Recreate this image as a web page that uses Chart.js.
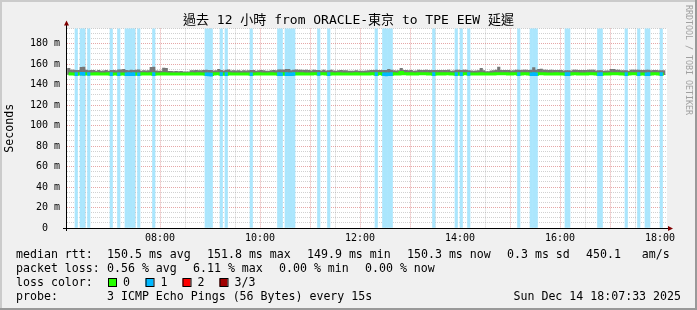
<!DOCTYPE html>
<html><head><meta charset="utf-8">
<script src="https://cdn.jsdelivr.net/npm/chart.js@4/dist/chart.umd.min.js"></script>
<style>html,body{margin:0;padding:0;background:#f0f0f0}canvas{display:block}</style>
</head><body>
<canvas id="c" width="697" height="310"></canvas>
<script>
// ---------- data ----------
const titleText = '過去 12 小時 from ORACLE-東京 to TPE EEW 延遲';
const yAxisTitle = 'Seconds';
const firstSampleHour = 6.15;   // 06:09
const sampleStepHours = 0.05;   // 3-minute consolidated samples
const timeMin = 6.14, timeMax = 18.14;
const yMax = 195;
const xTickHours = [6.5,7,7.5,8,8.5,9,9.5,10,10.5,11,11.5,12,12.5,13,13.5,14,14.5,15,15.5,16,16.5,17,17.5,18];
const yTickValues = [0,5,10,15,20,25,30,35,40,45,50,55,60,65,70,75,80,85,90,95,100,105,110,115,120,125,130,135,140,145,150,155,160,165,170,175,180,185,190,195];

const medianRtt = [
150.6,150.5,150.4,150.3,150.5,150.7,150.6,150.5,150.4,150.5,150.5,150.6,150.5,150.4,150.5,150.5,150.6,150.3,150.4,150.5,
150.2,150.4,150.5,150.2,150.3,150.2,150.3,150.5,150.2,150.5,150.6,150.5,150.5,150.6,150.3,150.5,150.4,150.5,150.6,150.5,
150.5,150.4,150.5,150.5,150.4,150.5,150.5,150.4,150.5,150.6,150.5,150.5,150.6,150.5,150.5,150.2,150.1,149.9,150.5,150.6,
150.7,150.3,150.5,150.3,150.6,150.5,150.5,150.4,150.5,150.5,150.4,150.5,150.5,150.2,150.5,150.5,150.6,150.5,150.5,150.4,
150.5,150.6,150.5,150.5,150.3,150.2,150.6,150.3,150.2,150.2,150.4,150.6,150.5,150.6,150.5,150.5,150.5,150.4,150.6,150.7,
150.4,150.6,150.6,150.5,150.3,150.6,150.5,150.5,150.6,150.5,150.5,150.4,150.5,150.5,150.5,150.6,150.5,150.5,150.4,150.5,
150.5,150.6,150.7,150.3,150.6,150.7,150.2,150.1,150.2,150.3,150.6,150.5,150.5,151.8,150.6,150.6,150.5,150.6,150.5,150.5,
150.7,150.6,150.6,150.6,150.5,150.5,150.3,150.6,150.5,150.6,150.5,150.6,150.6,150.5,150.5,150.3,150.6,150.3,150.6,150.6,
150.4,150.5,150.5,150.5,150.5,150.6,150.5,150.5,150.5,150.5,150.5,150.6,150.8,150.6,150.6,150.6,150.5,150.5,150.6,150.6,
150.3,150.5,150.6,150.6,150.5,150.2,150.3,150.2,150.6,150.6,150.6,150.5,150.5,150.5,150.5,150.6,150.5,150.5,150.5,150.3,
150.3,150.5,150.6,150.6,150.5,150.5,150.5,150.5,150.6,150.6,150.6,150.5,150.2,150.3,150.5,150.5,150.5,150.6,150.6,150.6,
150.6,150.5,150.5,150.3,150.5,150.6,150.6,150.6,150.3,150.5,150.5,150.2,150.3,150.5,150.6,150.6,150.5,150.3,150.3,null];

const smokeMin = [
150.1,150.0,149.9,149.8,150.0,150.2,150.1,150.0,149.9,150.0,150.1,150.1,150.0,149.9,150.1,150.0,150.1,149.7,149.9,150.0,
149.7,149.9,150.0,149.6,149.8,149.7,149.8,150.0,149.7,150.1,150.2,150.1,150.0,150.1,149.8,150.1,150.0,150.1,150.2,150.1,
150.1,150.0,150.1,150.1,150.0,150.1,150.1,150.0,150.1,150.2,150.1,150.1,150.2,150.1,150.1,149.7,149.6,149.5,150.1,150.2,
150.2,149.8,150.1,149.8,150.1,150.1,150.1,150.0,150.1,150.1,150.0,150.1,150.1,149.7,150.1,150.1,150.2,150.1,150.1,150.0,
150.1,150.2,150.1,150.1,149.8,149.7,150.2,149.8,149.7,149.7,150.0,150.2,150.1,150.2,150.1,150.1,150.1,150.0,150.2,150.2,
149.9,150.2,150.2,150.1,149.8,150.2,150.1,150.1,150.2,150.1,150.1,150.0,150.1,150.1,150.1,150.2,150.1,150.1,150.0,150.1,
150.1,150.2,150.2,149.8,150.1,150.2,149.7,149.6,149.7,149.8,150.2,150.1,150.1,150.9,150.2,150.2,150.1,150.2,150.1,150.1,
150.2,150.2,150.2,150.2,150.1,150.1,149.8,150.2,150.1,150.2,150.1,150.2,150.2,150.1,150.1,149.8,150.2,149.8,150.2,150.2,
149.9,150.1,150.1,150.1,150.1,150.2,150.1,150.1,150.1,150.1,150.1,150.2,150.3,150.2,150.2,150.2,150.1,150.1,150.2,150.2,
149.8,150.1,150.2,150.2,150.1,149.7,149.8,149.7,150.2,150.2,150.2,150.1,150.1,150.1,150.1,150.2,150.1,150.1,150.1,149.8,
149.8,150.1,150.2,150.2,150.1,150.1,150.1,150.1,150.2,150.2,150.2,150.1,149.7,149.8,150.1,150.1,150.1,150.2,150.2,150.2,
150.2,150.1,150.1,149.8,150.1,150.2,150.2,150.2,149.8,150.1,150.1,149.7,149.8,150.1,150.2,150.2,150.1,149.8,149.8,null];

const smokeMax = [
156.0,154.3,154.3,154.0,154.0,157.0,157.3,154.3,153.8,154.1,154.1,153.4,154.0,153.4,153.6,154.0,153.4,154.0,154.0,153.8,
154.5,154.5,155.0,154.1,153.8,154.3,154.0,154.3,154.5,153.4,153.8,153.6,153.8,157.0,157.2,153.6,153.4,153.4,156.3,156.0,
153.0,153.0,152.9,153.0,152.9,153.0,152.6,152.6,152.6,153.8,153.8,154.0,153.8,153.8,154.0,154.3,154.1,154.0,153.6,153.8,
155.0,154.1,153.6,154.3,154.5,153.6,153.8,153.6,153.8,153.4,153.8,153.6,153.8,154.1,154.1,153.4,153.8,154.0,153.8,153.4,
153.4,153.8,154.0,153.8,154.5,154.5,154.3,155.0,155.0,153.8,154.3,154.5,154.3,154.3,154.1,154.3,154.1,153.6,154.3,154.0,
154.0,153.6,154.3,153.6,153.8,154.3,153.6,153.4,153.8,154.0,153.8,153.8,153.4,153.4,153.4,153.8,153.4,153.4,153.4,153.6,
153.8,154.1,154.0,154.3,154.0,154.1,154.0,154.0,155.0,154.3,153.8,153.6,153.8,156.0,154.1,154.1,153.8,154.1,153.4,153.6,
154.3,154.0,154.0,154.3,154.1,154.1,154.1,154.0,154.1,154.1,154.0,154.1,154.3,153.4,153.6,154.3,154.3,154.1,154.3,154.3,
153.8,153.6,153.4,153.6,153.8,156.0,153.8,152.7,152.7,153.6,153.8,154.3,157.3,154.1,154.1,154.1,154.1,153.6,153.8,154.3,
154.3,154.1,154.3,154.3,154.1,154.3,156.7,154.3,155.0,155.3,154.3,154.3,154.1,154.3,154.1,154.1,154.1,154.1,153.6,153.8,
153.8,153.6,154.3,154.3,154.1,154.1,154.1,154.1,154.3,154.3,154.3,153.6,153.8,153.8,153.4,153.6,153.6,155.0,155.0,154.3,
154.3,153.8,153.8,153.8,153.4,154.3,154.3,154.3,154.3,154.1,154.1,154.3,154.3,153.8,154.1,154.1,153.8,153.8,153.8,null];

// samples in which 1 of 3 pings was lost
const lossSamples = [3,5,6,8,17,20,23,24,25,26,28,34,55,56,57,61,63,73,84,85,87,88,89,90,100,104,123,126,127,128,129,146,155,157,160,180,185,186,187,199,200,212,213,223,228,231,232,237];

const legendRows = [
  [['median rtt:',16],['150.5 ms avg',107],['151.8 ms max',207],['149.9 ms min',307],['150.3 ms now',407],['0.3 ms sd',507],['450.1   am/s',586]],
  [['packet loss:',16],['0.56 % avg',107],['6.11 % max',193],['0.00 % min',279],['0.00 % now',365]],
  [['loss color:',16]],
  [['probe:',16],['3 ICMP Echo Pings (56 Bytes) every 15s',107]]
];
const lossLegend = [['0','#26ff00'],['1','#00b8ff'],['2','#ff0000'],['3/3','#a00000']];
const stampText = 'Sun Dec 14 18:07:33 2025';
const vendorText = 'RRDTOOL / TOBI OETIKER';

// ---------- build tables ----------
const sampleTimes = medianRtt.map((_, i) => firstSampleHour + sampleStepHours * (i + 0.5));
const lossSet = new Set(lossSamples);
const lossBarData = sampleTimes.map((t, i) => ({x: t, y: lossSet.has(i) ? yMax : null}));
const smokeData = sampleTimes.map((t, i) => ({x: t, y: smokeMax[i] == null ? null : [smokeMin[i], smokeMax[i]]}));
const medianData = sampleTimes.map((t, i) => ({x: t, y: medianRtt[i]}));
const LINE_HALF = 1.45;
const lossMedianData = sampleTimes.map((t, i) => ({x: t, y: (lossSet.has(i) && medianRtt[i] != null) ? [medianRtt[i] - LINE_HALF, medianRtt[i] + LINE_HALF] : null}));

const MONO = "'DejaVu Sans Mono','Noto Sans CJK TC',monospace";
Chart.defaults.font.family = MONO;
const MAJOR = 'rgba(200,60,60,0.45)';
const MINOR = 'rgba(140,140,140,0.4)';

const frame = {
  id: 'frame',
  beforeDraw(chart) {
    const c = chart.ctx, a = chart.chartArea, W = chart.width, H = chart.height;
    c.save();
    c.fillStyle = '#f0f0f0'; c.fillRect(0, 0, W, H);
    c.fillStyle = '#cbcbcb'; c.fillRect(0, 0, W, 2); c.fillRect(0, 0, 2, H);
    c.fillStyle = '#999999'; c.fillRect(0, H - 2, W, 2); c.fillRect(W - 2, 0, 2, H);
    c.fillStyle = '#ffffff'; c.fillRect(a.left, a.top, a.right - a.left, a.bottom - a.top);
    c.restore();
  },
  afterDraw(chart) {
    const c = chart.ctx, a = chart.chartArea;
    c.save();
    // title
    c.font = '13px ' + MONO; c.fillStyle = '#000'; c.textBaseline = 'middle'; c.textAlign = 'center';
    c.fillText(titleText, 348.5, 21);
    // axes
    c.strokeStyle = '#000'; c.lineWidth = 1;
    c.beginPath();
    c.moveTo(a.left - 0.5, a.top - 4); c.lineTo(a.left - 0.5, a.bottom + 3);
    c.moveTo(a.left - 4, a.bottom + 0.5); c.lineTo(a.right + 2, a.bottom + 0.5);
    c.stroke();
    c.fillStyle = '#800000';
    c.beginPath(); c.moveTo(a.left - 3, a.top - 3); c.lineTo(a.left + 2, a.top - 3); c.lineTo(a.left - 0.5, a.top - 8); c.closePath(); c.fill();
    c.beginPath(); c.moveTo(a.right + 1, a.bottom - 2); c.lineTo(a.right + 1, a.bottom + 3); c.lineTo(a.right + 6, a.bottom + 0.5); c.closePath(); c.fill();
    // legend
    c.font = '11.6px ' + MONO; c.fillStyle = '#000'; c.textBaseline = 'middle'; c.textAlign = 'left';
    const rowY = [254.5, 268.5, 282.5, 296.5];
    legendRows.forEach((row, r) => row.forEach(([txt, x]) => c.fillText(txt, x, rowY[r])));
    const boxX = [108, 145.5, 182.5, 219.5];
    lossLegend.forEach(([lab, col], k) => {
      c.fillStyle = col; c.fillRect(boxX[k], 278.5, 8, 8);
      c.strokeStyle = '#000'; c.strokeRect(boxX[k] + 0.5, 278.5, 8, 8);
      c.fillStyle = '#000'; c.fillText(lab, boxX[k] + 15, rowY[2]);
    });
    c.textAlign = 'right'; c.fillText(stampText, 681, rowY[3]);
    // vendor watermark
    c.translate(688, 5); c.rotate(Math.PI / 2);
    c.font = '8.3px ' + MONO; c.fillStyle = '#a0a0a0'; c.textAlign = 'left';
    c.fillText(vendorText, 0, 0);
    c.restore();
  }
};

new Chart(document.getElementById('c'), {
  type: 'bar',
  data: {
    datasets: [
      {label: 'loss', data: lossBarData, backgroundColor: '#abe6fd', grouped: false, barPercentage: 1, categoryPercentage: 1, order: 4},
      {label: 'smoke', data: smokeData, backgroundColor: '#767676', grouped: false, barPercentage: 1, categoryPercentage: 1, order: 3},
      {type: 'line', label: 'median rtt', data: medianData, borderColor: '#26ff00', borderWidth: 3, stepped: 'middle', pointRadius: 0, order: 2},
      {label: 'median rtt (loss 1)', data: lossMedianData, backgroundColor: '#00b8ff', grouped: false, barPercentage: 1, categoryPercentage: 1, order: 1}
    ]
  },
  options: {
    responsive: false, animation: false, devicePixelRatio: 1,
    layout: {padding: {left: 0, right: 30, top: 28.4, bottom: 0}},
    plugins: {legend: {display: false}, tooltip: {enabled: false}, title: {display: false}},
    scales: {
      x: {
        type: 'linear', min: timeMin, max: timeMax, offset: false, z: 1,
        afterBuildTicks: s => { s.ticks = xTickHours.map(v => ({value: v})); },
        afterFit: s => { s.height = 82; },
        grid: {offset: false, drawTicks: false, color: ctx => (ctx.tick && Number.isInteger(ctx.tick.value)) ? MAJOR : MINOR},
        border: {display: false, dash: [1, 1]},
        ticks: {autoSkip: false, maxRotation: 0, padding: 4, color: '#000', font: {size: 10},
          callback: v => (Number.isInteger(v) && v % 2 === 0) ? String(v).padStart(2, '0') + ':00' : ''}
      },
      y: {
        type: 'linear', min: 0, max: yMax, z: 1,
        afterBuildTicks: s => { s.ticks = yTickValues.map(v => ({value: v})); },
        afterFit: s => { s.width = 67; },
        grid: {drawTicks: false, color: ctx => (ctx.tick && ctx.tick.value % 20 === 0) ? MAJOR : MINOR},
        border: {display: false, dash: [1, 1]},
        ticks: {autoSkip: false, padding: 7, color: '#000', font: {size: 10},
          callback: v => v % 20 === 0 ? (v === 0 ? '0  ' : v + ' m') : ''},
        title: {display: true, text: yAxisTitle, color: '#000', font: {size: 11.6}, padding: {top: 3.5, bottom: 0}}
      }
    }
  },
  plugins: [frame]
});
</script>
</body></html>
